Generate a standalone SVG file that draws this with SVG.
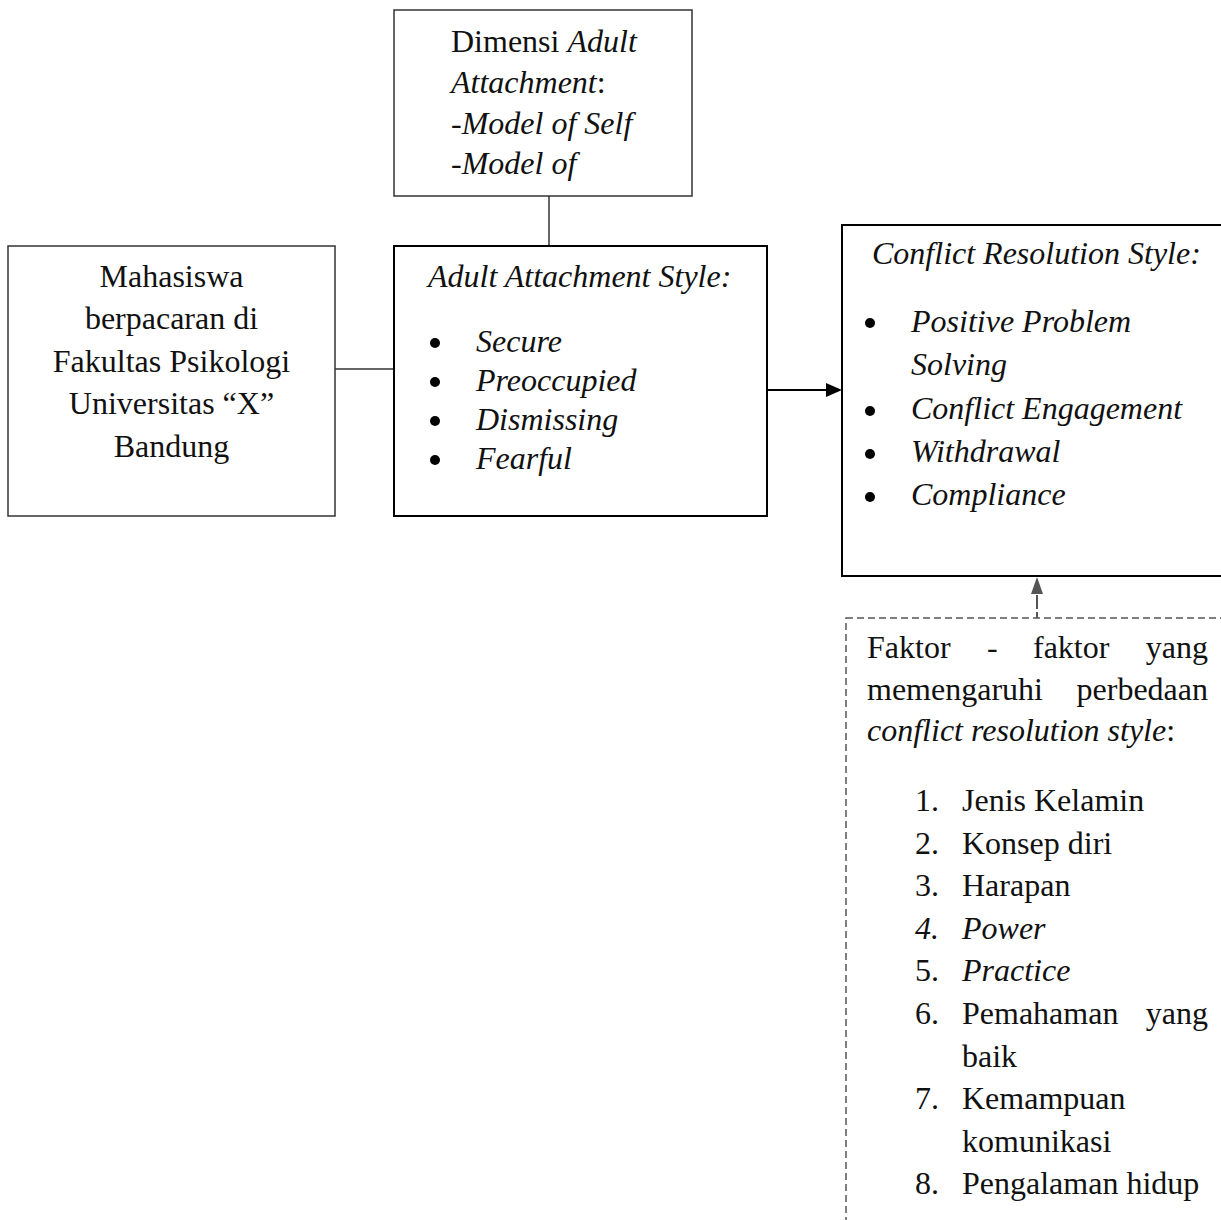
<svg xmlns="http://www.w3.org/2000/svg" width="1221" height="1220" viewBox="0 0 1221 1220">
<style>
  text { font-family: "Liberation Serif", "Times New Roman", serif; font-size: 32px; fill: #111; }
  .i { font-style: italic; }
  .box-thin { fill: #fff; stroke: #333; stroke-width: 1.5; }
  .box-bold { fill: #fff; stroke: #000; stroke-width: 2; }
  .dash { fill: none; stroke: #555; stroke-width: 1.5; stroke-dasharray: 7 4; }
  .line { fill: none; stroke: #333; stroke-width: 1.5; }
</style>
<rect width="1221" height="1220" fill="#fff"/>

<g id="connectors">
  <line class="line" x1="549" y1="196" x2="549" y2="246"/>
  <line class="line" x1="335" y1="369" x2="394" y2="369"/>
  <line x1="767" y1="390" x2="828" y2="390" stroke="#000" stroke-width="2"/>
  <path d="M826,383 L842,390 L826,397 Z" fill="#000"/>
  <line x1="1037" y1="618" x2="1037" y2="592" stroke="#555" stroke-width="2" stroke-dasharray="6 3 14 40"/>
  <path d="M1031,594 L1037,577 L1043,594 Z" fill="#555"/>
</g>

<g id="node-dimensi">
  <rect class="box-thin" x="394" y="10" width="298" height="186"/>
  <text x="451" y="52">Dimensi <tspan class="i">Adult</tspan></text>
  <text x="451" y="93"><tspan class="i">Attachment</tspan>:</text>
  <text x="451" y="134" class="i">-Model of Self</text>
  <text x="451" y="174" class="i">-Model of</text>
</g>

<g id="node-mahasiswa">
  <rect class="box-thin" x="8" y="246" width="327" height="270"/>
  <g text-anchor="middle">
    <text x="171.5" y="287">Mahasiswa</text>
    <text x="171.5" y="329">berpacaran di</text>
    <text x="171.5" y="372">Fakultas Psikologi</text>
    <text x="171.5" y="414">Universitas “X”</text>
    <text x="171.5" y="457">Bandung</text>
  </g>
</g>

<g id="node-attachment-style">
  <rect class="box-bold" x="394" y="246" width="373" height="270"/>
  <text x="428" y="287" class="i">Adult Attachment Style:</text>
  <circle cx="435" cy="343" r="5" fill="#000"/>
  <circle cx="435" cy="382" r="5" fill="#000"/>
  <circle cx="435" cy="421" r="5" fill="#000"/>
  <circle cx="435" cy="460" r="5" fill="#000"/>
  <text x="476" y="352" class="i">Secure</text>
  <text x="476" y="391" class="i">Preoccupied</text>
  <text x="476" y="430" class="i">Dismissing</text>
  <text x="476" y="469" class="i">Fearful</text>
</g>

<g id="node-conflict-style">
  <rect class="box-bold" x="842" y="225" width="400" height="351"/>
  <text x="872" y="264" class="i">Conflict Resolution Style:</text>
  <circle cx="870" cy="323" r="5" fill="#000"/>
  <circle cx="870" cy="411" r="5" fill="#000"/>
  <circle cx="870" cy="454" r="5" fill="#000"/>
  <circle cx="870" cy="497" r="5" fill="#000"/>
  <text x="911" y="332" class="i">Positive Problem</text>
  <text x="911" y="375" class="i">Solving</text>
  <text x="911" y="419" class="i">Conflict Engagement</text>
  <text x="911" y="462" class="i">Withdrawal</text>
  <text x="911" y="505" class="i">Compliance</text>
</g>

<g id="node-faktor">
  <rect class="dash" x="846" y="618" width="400" height="640"/>
  <text x="867" y="658">Faktor</text>
  <text x="987" y="658">-</text>
  <text x="1033" y="658">faktor</text>
  <text x="1208" y="658" text-anchor="end">yang</text>
  <text x="867" y="700">memengaruhi</text>
  <text x="1208" y="700" text-anchor="end">perbedaan</text>
  <text x="867" y="741"><tspan class="i">conflict resolution style</tspan>:</text>
  <text x="915" y="811">1.</text><text x="962" y="811">Jenis Kelamin</text>
  <text x="915" y="854">2.</text><text x="962" y="854">Konsep diri</text>
  <text x="915" y="896">3.</text><text x="962" y="896">Harapan</text>
  <text x="915" y="939" class="i">4.</text><text x="962" y="939" class="i">Power</text>
  <text x="915" y="981">5.</text><text x="962" y="981" class="i">Practice</text>
  <text x="915" y="1024">6.</text><text x="962" y="1024">Pemahaman</text><text x="1208" y="1024" text-anchor="end">yang</text>
  <text x="962" y="1067">baik</text>
  <text x="915" y="1109">7.</text><text x="962" y="1109">Kemampuan</text>
  <text x="962" y="1152">komunikasi</text>
  <text x="915" y="1194">8.</text><text x="962" y="1194">Pengalaman hidup</text>
</g>
</svg>
